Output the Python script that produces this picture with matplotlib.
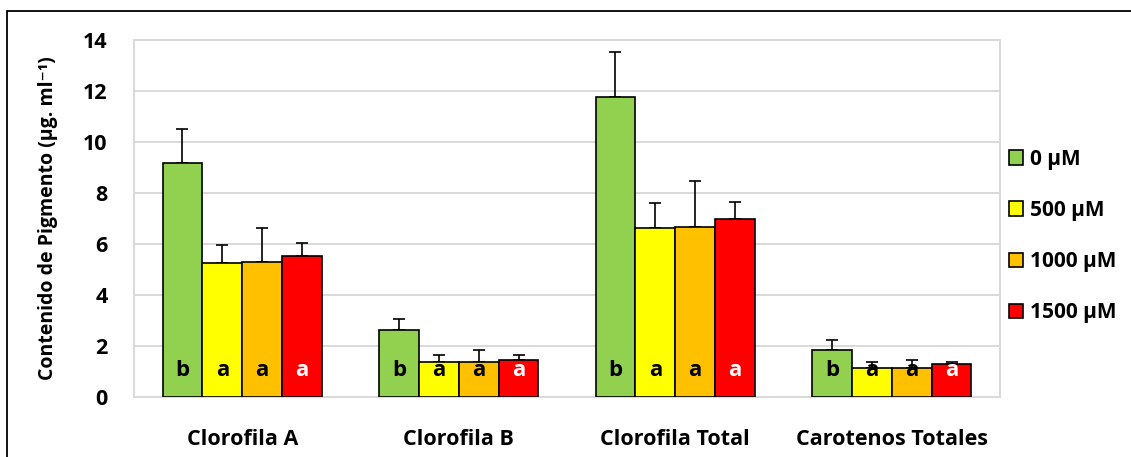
import matplotlib
matplotlib.use("Agg")
import matplotlib.pyplot as plt
from matplotlib.patches import Rectangle
import numpy as np

plt.rcParams['font.family'] = ['Open Sans', 'DejaVu Sans']
plt.rcParams['font.weight'] = 'bold'

categories = ['Clorofila A', 'Clorofila B', 'Clorofila Total', 'Carotenos Totales']
series = ['0 \u00b5M', '500 \u00b5M', '1000 \u00b5M', '1500 \u00b5M']
colors = ['#92d050', '#ffff00', '#ffc000', '#ff0000']

val_0 = [9.16, 2.63, 11.78, 1.84]
val_500 = [5.24, 1.37, 6.61, 1.15]
val_1000 = [5.28, 1.39, 6.68, 1.15]
val_1500 = [5.53, 1.45, 6.98, 1.28]

err_0 = [1.34, 0.43, 1.76, 0.40]
err_500 = [0.72, 0.28, 0.98, 0.24]
err_1000 = [1.36, 0.45, 1.79, 0.32]
err_1500 = [0.50, 0.21, 0.68, 0.11]

letters_0 = ['b', 'b', 'b', 'b']
letters_500 = ['a', 'a', 'a', 'a']
letters_1000 = ['a', 'a', 'a', 'a']
letters_1500 = ['a', 'a', 'a', 'a']

values = [val_0, val_500, val_1000, val_1500]
errors = [err_0, err_500, err_1000, err_1500]
letters = [letters_0, letters_500, letters_1000, letters_1500]
letter_colors = ['black', 'black', 'black', 'white']

fig = plt.figure(figsize=(11.31, 4.57), dpi=100)
ax = fig.add_axes([134 / 1131, 1 - 397 / 457, 866 / 1131, 357 / 457])

x = np.arange(len(categories))
w = 0.184
for i, (vals, errs) in enumerate(zip(values, errors)):
    pos = x + (i - 1.5) * w
    ax.bar(pos, vals, w, color=colors[i], edgecolor='black', linewidth=1.2,
           label=series[i], zorder=3)
    ax.errorbar(pos, vals, yerr=[np.zeros(len(errs)), errs], fmt='none',
                ecolor='black', elinewidth=1.2, capsize=4.5, capthick=1.2, zorder=2)
    for p, lt in zip(pos, letters[i]):
        ax.text(p, 1.05, lt, ha='center', va='center', fontsize=16,
                fontweight='bold', color=letter_colors[i], zorder=4)

ax.set_xlim(-0.5, 3.5)
ax.set_ylim(0, 14)
ax.set_yticks(range(0, 15, 2))
ax.set_xticks(x)
ax.set_xticklabels(categories)
ax.tick_params(axis='x', length=0, pad=23, labelsize=15.5)
ax.tick_params(axis='y', length=0, pad=19, labelsize=15.5)
ax.grid(axis='y', color='#d9d9d9', linewidth=1.4, zorder=0)
for s in ax.spines.values():
    s.set_color('#d9d9d9')
    s.set_linewidth(1.4)

ax.set_ylabel('Contenido de Pigmento (\u00b5g. ml\u207b\u00b9)', fontsize=14,
              fontweight='bold')
ax.yaxis.set_label_coords(-0.088, 0.5)

fig.legend(loc='center left', bbox_to_anchor=(990 / 1131, 1 - 236 / 457),
           frameon=False, fontsize=15, handlelength=0.7, handleheight=0.7,
           handletextpad=0.3, labelspacing=1.45)

fig.patches.append(Rectangle((7 / 1131, -0.1), 1.2, 1.1 - 11 / 457,
                             transform=fig.transFigure, fill=False,
                             edgecolor='black', linewidth=1.3))

fig.savefig('out.png', dpi=100)
